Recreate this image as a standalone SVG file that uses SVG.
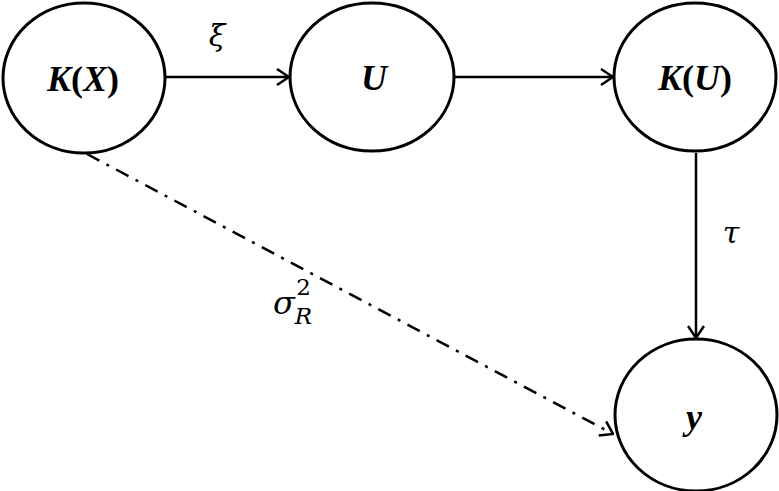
<svg xmlns="http://www.w3.org/2000/svg" width="779" height="491" viewBox="0 0 779 491">
<defs>
<style>
.node{fill:#fff;stroke:#000;stroke-width:3}
.lbl{font-family:"Liberation Serif","Times New Roman",serif;font-weight:bold;font-style:italic;font-size:36px;text-anchor:middle;fill:#000}
.p{font-style:normal}
.edge{stroke:#000;stroke-width:2.5;fill:none}
.dash{stroke-dasharray:14 8 3 8}
.math{font-family:"DejaVu Serif","Liberation Serif",serif;font-style:italic;fill:#000}
</style>
<marker id="arr" viewBox="0 0 14 18" refX="13" refY="9" markerWidth="14" markerHeight="18" markerUnits="userSpaceOnUse" orient="auto">
<path d="M1,1 L13,9 L1,17" fill="none" stroke="#000" stroke-width="2.5"/>
</marker>
</defs>
<rect width="779" height="491" fill="#fff"/>
<g id="connectors">
<line class="edge" x1="166" y1="77" x2="289" y2="77" marker-end="url(#arr)"/>
<line class="edge" x1="454" y1="77" x2="613" y2="77" marker-end="url(#arr)"/>
<line class="edge" x1="696" y1="153" x2="696" y2="338" marker-end="url(#arr)"/>
<line class="edge dash" x1="87" y1="154" x2="613" y2="434" marker-end="url(#arr)"/>
<text class="math" x="217" y="46" font-size="30" text-anchor="middle">ξ</text>
<text class="math" x="731" y="243" font-size="30" text-anchor="middle">τ</text>
<text class="math" x="273" y="314" font-size="32">σ<tspan font-size="23" dy="10">R</tspan><tspan font-size="23" dx="-16" dy="-29" font-style="normal">2</tspan></text>
</g>
<g id="KX">
<ellipse class="node" cx="84" cy="78" rx="81" ry="75"/>
<text class="lbl" x="83" y="91">K<tspan class="p">(</tspan>X<tspan class="p">)</tspan></text>
</g>
<g id="U">
<ellipse class="node" cx="372" cy="77" rx="82" ry="74"/>
<text class="lbl" x="374" y="90">U</text>
</g>
<g id="KU">
<ellipse class="node" cx="695" cy="77" rx="81" ry="74"/>
<text class="lbl" x="695" y="90">K<tspan class="p">(</tspan>U<tspan class="p">)</tspan></text>
</g>
<g id="y">
<ellipse class="node" cx="696" cy="415" rx="81" ry="76"/>
<text class="lbl" x="694" y="429">y</text>
</g>
</svg>
